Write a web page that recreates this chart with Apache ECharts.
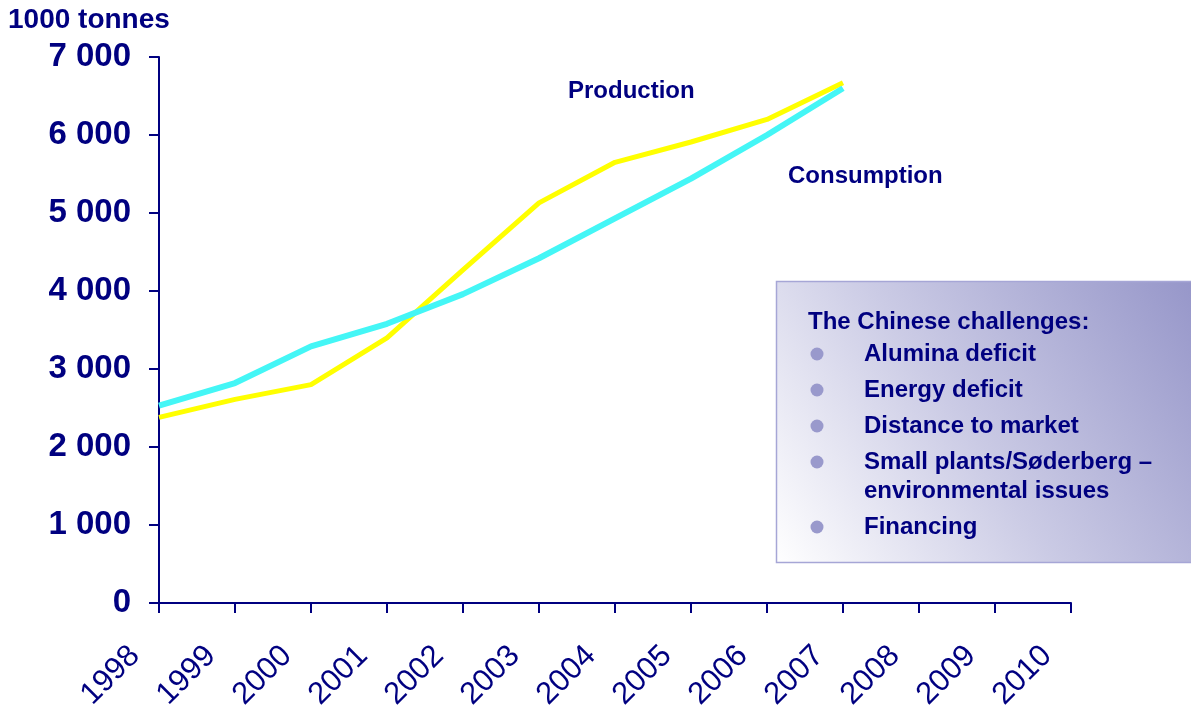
<!DOCTYPE html>
<html>
<head>
<meta charset="utf-8">
<title>Chinese aluminium production and consumption</title>
<script src="https://cdn.jsdelivr.net/npm/echarts@6/dist/echarts.min.js"></script>
<style>
  html, body { margin: 0; padding: 0; background: #ffffff; }
  #chart { width: 1191px; height: 705px; }
</style>
</head>
<body>
<div id="chart"></div>
<script>
// Years on the horizontal axis
const years = ['1998', '1999', '2000', '2001', '2002', '2003', '2004',
               '2005', '2006', '2007', '2008', '2009', '2010'];

// Primary aluminium, 1000 tonnes
const production  = [2380, 2610, 2800, 3400, 4270, 5130, 5650, 5910, 6200, 6670];
const consumption = [2530, 2820, 3290, 3580, 3960, 4420, 4930, 5440, 6000, 6600];

// Vertical axis ticks
const yMin = 0, yMax = 7000, yStep = 1000;

// Text of the side panel
const panelTitle = 'The Chinese challenges:';
const panelItems = [
  ['Alumina deficit'],
  ['Energy deficit'],
  ['Distance to market'],
  ['Small plants/Søderberg –', 'environmental issues'],
  ['Financing']
];

const navy = '#000080';
const lavender = '#9999cc';
const font = '"Liberation Sans", Arial, sans-serif';

const chart = echarts.init(document.getElementById('chart'), null, { renderer: 'canvas' });

// Side panel: gradient box, title, bullets and items
const panel = [];
panel.push({
  type: 'rect',
  shape: { x: 776.5, y: 281.5, width: 430, height: 281 },
  style: {
    fill: new echarts.graphic.LinearGradient(0, 1, 1, 0, [
      { offset: 0, color: '#ffffff' },
      { offset: 0.45, color: '#cbcbe5' },
      { offset: 1, color: '#9494c8' }
    ]),
    stroke: '#a6a6d6',
    lineWidth: 1.5
  },
  z: 1
});
panel.push({
  type: 'text', x: 808, y: 322, z: 3,
  style: { text: panelTitle, fill: navy, font: 'bold 24px ' + font, textVerticalAlign: 'middle' }
});
let rowY = 354;
panelItems.forEach(lines => {
  panel.push({
    type: 'circle', z: 3,
    shape: { cx: 817, cy: rowY, r: 6.5 },
    style: { fill: lavender }
  });
  lines.forEach((line, i) => {
    panel.push({
      type: 'text', x: 864, y: rowY + i * 29, z: 3,
      style: { text: line, fill: navy, font: 'bold 24px ' + font, textVerticalAlign: 'middle' }
    });
  });
  rowY += lines.length === 1 ? 36 : 65;
});

const option = {
  backgroundColor: '#ffffff',
  animation: false,
  grid: {
    left: 159, right: 120, top: 57, bottom: 102,
    containLabel: false,
    outerBoundsMode: 'none'
  },
  xAxis: {
    type: 'category',
    data: years,
    boundaryGap: false,
    axisLine: { show: true, lineStyle: { color: navy, width: 2 } },
    axisTick: { show: true, length: 10, lineStyle: { color: navy, width: 2 } },
    axisLabel: {
      rotate: 45,
      interval: 0,
      margin: 24,
      padding: [0, 34, 0, 0],
      color: navy,
      fontFamily: font,
      fontSize: 31
    },
    splitLine: { show: false }
  },
  yAxis: {
    type: 'value',
    min: yMin,
    max: yMax,
    interval: yStep,
    axisLine: { show: true, lineStyle: { color: navy, width: 2 } },
    axisTick: { show: true, length: 10, lineStyle: { color: navy, width: 2 } },
    axisLabel: {
      margin: 28,
      color: navy,
      fontFamily: font,
      fontWeight: 'bold',
      fontSize: 33,
      formatter: v => v === 0 ? '0' : String(v).replace(/\B(?=(\d{3})+(?!\d))/g, ' ')
    },
    splitLine: { show: false }
  },
  graphic: [
    {
      type: 'text', x: 8, y: 20,
      style: { text: '1000 tonnes', fill: navy, font: 'bold 28px ' + font, textVerticalAlign: 'middle' }
    },
    {
      type: 'text', x: 568, y: 91,
      style: { text: 'Production', fill: navy, font: 'bold 24px ' + font, textVerticalAlign: 'middle' }
    },
    {
      type: 'text', x: 788, y: 176,
      style: { text: 'Consumption', fill: navy, font: 'bold 24px ' + font, textVerticalAlign: 'middle' }
    }
  ].concat(panel),
  series: [
    {
      name: 'Production',
      type: 'line',
      data: production,
      showSymbol: false,
      lineStyle: { color: '#ffff00', width: 5 },
      z: 2
    },
    {
      name: 'Consumption',
      type: 'line',
      data: consumption,
      showSymbol: false,
      lineStyle: { color: '#44f6f6', width: 6 },
      z: 3
    }
  ]
};

chart.setOption(option);
</script>
</body>
</html>
